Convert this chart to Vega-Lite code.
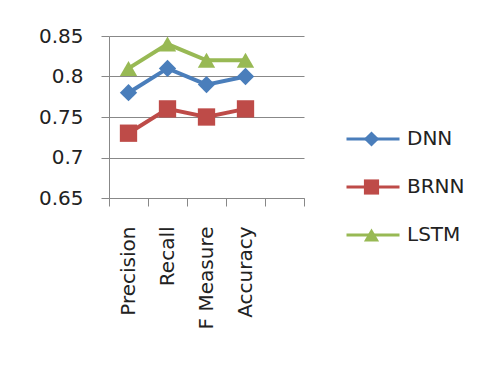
{
  "$schema": "https://vega.github.io/schema/vega-lite/v6.json",
  "width": 195,
  "height": 162,
  "autosize": "none",
  "padding": {"left": 109, "top": 36, "right": 182, "bottom": 168},
  "background": "white",
  "config": {
    "view": {"stroke": null},
    "font": "DejaVu Sans",
    "axis": {"labelFont": "DejaVu Sans", "labelFontSize": 20, "labelColor": "#222222", "domainColor": "#888888", "tickColor": "#888888", "gridColor": "#888888", "domainWidth": 1, "tickWidth": 1, "gridWidth": 1, "tickSize": 8}
  },
  "data": {
    "values": [
      {"metric": "Precision", "model": "DNN", "value": 0.78},
      {"metric": "Recall", "model": "DNN", "value": 0.81},
      {"metric": "F Measure", "model": "DNN", "value": 0.79},
      {"metric": "Accuracy", "model": "DNN", "value": 0.80},
      {"metric": "Precision", "model": "BRNN", "value": 0.73},
      {"metric": "Recall", "model": "BRNN", "value": 0.76},
      {"metric": "F Measure", "model": "BRNN", "value": 0.75},
      {"metric": "Accuracy", "model": "BRNN", "value": 0.76},
      {"metric": "Precision", "model": "LSTM", "value": 0.81},
      {"metric": "Recall", "model": "LSTM", "value": 0.84},
      {"metric": "F Measure", "model": "LSTM", "value": 0.82},
      {"metric": "Accuracy", "model": "LSTM", "value": 0.82}
    ]
  },
  "encoding": {
    "x": {
      "field": "metric", "type": "nominal",
      "scale": {"type": "band", "domain": ["Precision", "Recall", "F Measure", "Accuracy", " "], "paddingInner": 0, "paddingOuter": 0},
      "axis": {"title": null, "labelAngle": -90, "tickBand": "extent", "labelPadding": 20, "grid": false}
    },
    "y": {
      "field": "value", "type": "quantitative",
      "scale": {"domain": [0.65, 0.85], "zero": false, "nice": false},
      "axis": {"title": null, "values": [0.65, 0.7, 0.75, 0.8, 0.85], "format": ".2~f", "grid": true, "labelPadding": 18}
    }
  },
  "layer": [
    {
      "mark": {"type": "line", "strokeWidth": 4},
      "encoding": {
        "color": {
          "field": "model", "type": "nominal",
          "scale": {"domain": ["DNN", "BRNN", "LSTM"], "range": ["#4A7EBB", "#BE4B48", "#98B954"]},
          "legend": {"title": null, "orient": "none", "legendX": 236, "legendY": 93, "symbolType": "stroke", "symbolSize": 2809, "symbolStrokeWidth": 3, "clipHeight": 20, "rowPadding": 28, "labelFontSize": 20, "labelOffset": 6, "labelColor": "#222222", "padding": 0}
        }
      }
    },
    {
      "mark": {"type": "point", "filled": true, "opacity": 1, "size": 300},
      "encoding": {
        "color": {
          "field": "model", "type": "nominal",
          "legend": {"title": null, "orient": "none", "legendX": 254, "legendY": 93, "symbolSize": 230, "symbolOpacity": 1, "clipHeight": 20, "rowPadding": 28, "labelExpr": "''", "labelFontSize": 1, "padding": 0}
        },
        "shape": {
          "field": "model", "type": "nominal",
          "scale": {"domain": ["DNN", "BRNN", "LSTM"], "range": ["diamond", "square", "triangle-up"]},
          "legend": {"title": null, "orient": "none", "legendX": 254, "legendY": 93, "symbolSize": 230, "symbolOpacity": 1, "clipHeight": 20, "rowPadding": 28, "labelExpr": "''", "labelFontSize": 1, "padding": 0}
        }
      }
    }
  ],
  "resolve": {"legend": {"color": "independent", "shape": "independent"}}
}
